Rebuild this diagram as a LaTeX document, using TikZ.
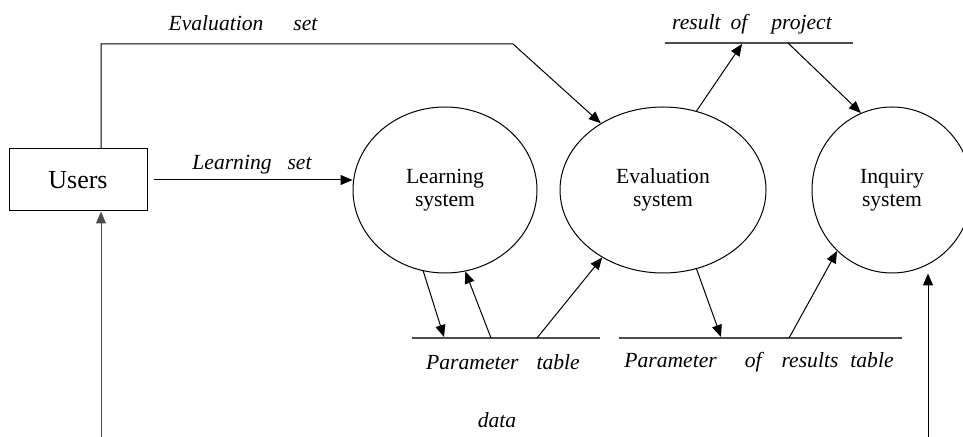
\documentclass[tikz,border=0pt]{standalone}
\usepackage{fontspec}
\setmainfont{Liberation Serif}
\usetikzlibrary{shapes.geometric,arrows.meta}

\begin{document}
\begin{tikzpicture}[x=0.5pt,y=-0.5pt,
    flow/.style={line width=0.5pt, -{Triangle[length=6pt,width=5pt]}},
    proc/.style={draw, ellipse, line width=0.5pt, inner sep=0pt, align=center, font=\fontsize{10.8}{11.5}\selectfont},
    lbl/.style={font=\fontsize{10.8}{13}\selectfont\itshape, inner sep=0pt},
    store/.style={draw=black!70, line width=0.6pt}]
    \useasboundingbox (0,0) rectangle (963,437);
    \node[draw, line width=0.5pt, minimum width=69pt, minimum height=31pt, font=\fontsize{13}{15}\selectfont] (users) at (78,180) {Users}; % users
    \node[proc, minimum width=92pt, minimum height=83pt] (learn) at (445,190) {Learning\\system};
    \node[proc, minimum width=103pt, minimum height=83pt] (eval) at (663,190) {Evaluation\\system};
    \node[proc, minimum width=80pt, minimum height=83pt] (inq) at (892,190) {Inquiry\\system};
    % data stores
    \coordinate (ptab-w) at (412,338); \coordinate (ptab-e) at (600,338);
    \coordinate (rtab-w) at (619,338); \coordinate (rtab-e) at (902,338);
    \coordinate (proj-w) at (665,43);  \coordinate (proj-e) at (853,43);
    \draw[store] (ptab-w) -- (ptab-e);
    \draw[store] (rtab-w) -- (rtab-e);
    \draw[store] (proj-w) -- (proj-e);
    \node[lbl] (ptab) at (503,362) {Parameter\hspace{9pt}table};
    \node[lbl] (rtab) at (759,362) {Parameter\hspace{14pt}of\hspace{10pt}results\hspace{6pt}table};
    \node[lbl] (proj) at (752,24) {result\hspace{5pt}of\hspace{12pt}project};
    % flows
    \coordinate (bend) at (513,44);
    \coordinate (dataL) at (101,437);
    \coordinate (dataR) at (928,437);
    \draw[flow] (users.north -| dataL) |- (bend) -- (eval.133); % evaluation set
    \node[lbl] (evalset) at (243,23) {Evaluation\hspace{15pt}set};
    \draw[flow] ([xshift=3]users.east) -- (users.east -| learn.west); % learning set
    \node[lbl] (learnset) at (252,165) {Learning\hspace{8pt}set};
    \draw[flow] (learn.255) -- (444,337); % to parameter table
    \draw[flow] (491,338) -- (learn.284); % back to learning
    \draw[flow] (537,338) -- (eval.228); % to evaluation
    \draw[flow] (eval.293) -- (721,337); % to results table
    \draw[flow] (789,338) -- (inq.228); % to inquiry
    \draw[flow] (eval.67) -- (742,44); % result of project
    \draw[flow] (788,43) -- (inq.112);
    \draw[flow, draw=black!70] (dataL) -- (dataL |- users.south); % data
    \draw[flow] (dataR) -- (dataR |- inq.south); % data
    \node[lbl] (data) at (497,420) {data};
\end{tikzpicture}
\end{document}
